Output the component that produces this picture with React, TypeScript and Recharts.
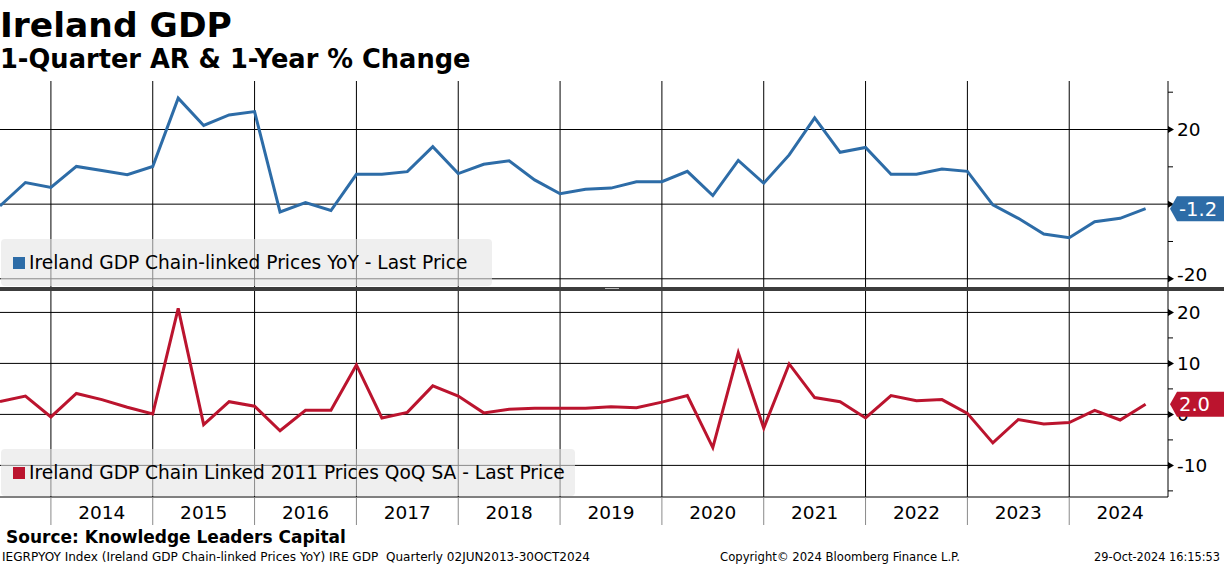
import { Legend, Line, LineChart, ReferenceLine, XAxis, YAxis } from 'recharts';

// Ireland GDP — YoY (top) and QoQ SA (bottom), quarterly, Bloomberg-style layout.

const QUARTERS = [
  '2013-Q2', '2013-Q3', '2013-Q4',
  '2014-Q1', '2014-Q2', '2014-Q3', '2014-Q4',
  '2015-Q1', '2015-Q2', '2015-Q3', '2015-Q4',
  '2016-Q1', '2016-Q2', '2016-Q3', '2016-Q4',
  '2017-Q1', '2017-Q2', '2017-Q3', '2017-Q4',
  '2018-Q1', '2018-Q2', '2018-Q3', '2018-Q4',
  '2019-Q1', '2019-Q2', '2019-Q3', '2019-Q4',
  '2020-Q1', '2020-Q2', '2020-Q3', '2020-Q4',
  '2021-Q1', '2021-Q2', '2021-Q3', '2021-Q4',
  '2022-Q1', '2022-Q2', '2022-Q3', '2022-Q4',
  '2023-Q1', '2023-Q2', '2023-Q3', '2023-Q4',
  '2024-Q1', '2024-Q2', '2024-Q3',
];

const YOY = [
  -0.5, 5.8, 4.5,
  10.1, 9.0, 7.9, 10.1,
  28.4, 21.1, 23.9, 24.8,
  -2.1, 0.4, -1.7, 8.0,
  8.0, 8.7, 15.4, 8.2,
  10.7, 11.6, 6.5, 2.8,
  4.0, 4.3, 6.0, 6.0,
  8.8, 2.3, 11.7, 5.6,
  13.2, 23.1, 13.9, 15.2,
  8.0, 8.0, 9.4, 8.8,
  -0.2, -3.8, -8.0, -9.0,
  -4.7, -3.8, -1.2,
];

const QOQ = [
  2.5, 3.6, -0.5,
  4.1, 2.9, 1.4, 0.1,
  20.8, -2.0, 2.5, 1.6,
  -3.2, 0.8, 0.8, 9.7,
  -0.7, 0.4, 5.6, 3.6,
  0.3, 1.0, 1.2, 1.2,
  1.2, 1.5, 1.3, 2.4,
  3.7, -6.5, 12.1, -2.7,
  9.9, 3.3, 2.5, -0.7,
  3.7, 2.7, 2.9, 0.2,
  -5.6, -1.0, -1.9, -1.6,
  0.8, -1.1, 2.0,
];

const YEARS = [2014, 2015, 2016, 2017, 2018, 2019, 2020, 2021, 2022, 2023, 2024];

const TOP_MAJOR = [20, 0, -20];
const TOP_MINOR = [30, 10, -10];
const BOTTOM_MAJOR = [20, 10, 0, -10];
const BOTTOM_MINOR = [15, 5, -5, -15];

const BLUE = '#2d6ca7';
const RED = '#bb142e';
const FONT = "Tahoma, 'DejaVu Sans', sans-serif";

const YOY_NAME = 'Ireland GDP Chain-linked Prices YoY - Last Price';
const QOQ_NAME = 'Ireland GDP Chain Linked 2011 Prices QoQ SA - Last Price';

// quarter label -> quarter-end as decimal year (Q4 lands on Jan 1 of next year)
const quarterEnd = (q: string) => {
  const [y, n] = q.split('-Q');
  return Number(y) + Number(n) / 4;
};

const rows = QUARTERS.map((q, i) => ({ t: quarterEnd(q), yoy: YOY[i], qoq: QOQ[i] }));

const X_DOMAIN: [number, number] = [2013.5, 2024.97];
// year boundaries get a divider, mid-years get the label
const X_TICKS = YEARS.flatMap((y) => [y, y + 0.5]);

const LAST_YOY = YOY[YOY.length - 1];
const LAST_QOQ = QOQ[QOQ.length - 1];

// axis ticks: minor/major marks first, the last-value tag last so it sits on top
const TOP_TICKS = [...TOP_MINOR, ...TOP_MAJOR].sort((a, b) => b - a).concat(LAST_YOY);
const BOTTOM_TICKS = [...BOTTOM_MINOR, ...BOTTOM_MAJOR].sort((a, b) => b - a).concat(LAST_QOQ);

function ValueTick(props: any) {
  const { x, y, payload, index, visibleTicksCount, majors, color, maxLabelY } = props;
  const v = payload.value as number;

  // last tick = last-value tag hanging off the axis
  if (index === visibleTicksCount - 1) {
    const tx = x + 2;
    return (
      <g>
        <polygon
          points={`${tx},${y} ${tx + 7},${y - 12.5} ${tx + 70},${y - 12.5} ${tx + 70},${y + 12.5} ${tx + 7},${y + 12.5}`}
          fill={color}
        />
        <text x={tx + 9} y={y} dy="0.36em" fontSize={19.5} fontFamily={FONT} fill="#fff">
          {v.toFixed(1)}
        </text>
      </g>
    );
  }

  if (!majors.includes(v)) {
    return <line x1={x} x2={x + 5} y1={y} y2={y} stroke="#000" />;
  }
  const ly = maxLabelY != null ? Math.min(y, maxLabelY) : y;
  return (
    <g>
      <polygon points={`${x},${y - 3.5} ${x + 6},${y} ${x},${y + 3.5}`} fill="#000" />
      <text x={x + 9} y={ly} dy="0.36em" fontSize={18.5} fontFamily={FONT} fill="#000">
        {String(v)}
      </text>
    </g>
  );
}

function YearTick(props: any) {
  const { x, y, payload } = props;
  const v = payload.value as number;
  if (Number.isInteger(v)) {
    return <line x1={x} x2={x} y1={y} y2={y + 28} stroke="#8a8a8a" />;
  }
  return (
    <text x={x} y={y + 22} textAnchor="middle" fontSize={18.5} fontFamily={FONT} fill="#000">
      {String(Math.floor(v))}
    </text>
  );
}

function LegendBox(props: any) {
  const item = props.payload?.[0];
  if (!item) return null;
  return (
    <div
      style={{
        height: '100%',
        boxSizing: 'border-box',
        background: 'rgba(228,228,228,0.6)',
        borderRadius: 4,
        display: 'flex',
        alignItems: 'center',
        paddingLeft: 12,
        fontFamily: FONT,
        fontSize: 18.6,
        color: '#000',
        whiteSpace: 'nowrap',
        overflow: 'hidden',
      }}
    >
      <span
        style={{
          display: 'inline-block',
          flex: '0 0 12px',
          minWidth: 12,
          height: 12,
          background: item.color,
          marginRight: 4,
        }}
      />
      <span>{item.value}</span>
    </div>
  );
}

export default function App() {
  return (
    <div
      style={{
        position: 'absolute',
        left: 0,
        top: 0,
        width: 1224,
        height: 566,
        background: '#fff',
        overflow: 'hidden',
        fontFamily: FONT,
      }}
    >
      <svg width={1224} height={566} style={{ position: 'absolute', left: 0, top: 0 }}>
        <text x={0} y={36.7} fontSize={34.5} fontWeight="bold" fontFamily={FONT} fill="#000">
          Ireland GDP
        </text>
        <text x={0} y={68} fontSize={25.7} fontWeight="bold" fontFamily={FONT} fill="#000">
          1-Quarter AR &amp; 1-Year % Change
        </text>
        <text x={6} y={543} fontSize={17} fontWeight="bold" fontFamily={FONT} fill="#000">
          Source: Knowledge Leaders Capital
        </text>
        <text
          x={2}
          y={561}
          fontSize={12}
          fontFamily={FONT}
          fill="#000"
          textLength={588}
          lengthAdjust="spacingAndGlyphs"
          style={{ whiteSpace: 'pre' }}
        >
          IEGRPYOY Index (Ireland GDP Chain-linked Prices YoY) IRE GDP  Quarterly 02JUN2013-30OCT2024
        </text>
        <text x={720} y={561} fontSize={12} fontFamily={FONT} fill="#000" textLength={240} lengthAdjust="spacingAndGlyphs">
          Copyright© 2024 Bloomberg Finance L.P.
        </text>
        <text x={1094} y={561} fontSize={12} fontFamily={FONT} fill="#000" textLength={126} lengthAdjust="spacingAndGlyphs">
          29-Oct-2024 16:15:53
        </text>
      </svg>

      {/* top panel: 1-year % change */}
      <div style={{ position: 'absolute', left: 0, top: 80 }}>
        <LineChart width={1224} height={207} data={rows} margin={{ top: 1, right: 0, bottom: 0, left: 0 }}>
          <XAxis type="number" dataKey="t" domain={X_DOMAIN} allowDataOverflow hide />
          {TOP_MAJOR.map((v) => (
            <ReferenceLine key={`h${v}`} y={v} stroke="#000" strokeWidth={1} />
          ))}
          {YEARS.map((y) => (
            <ReferenceLine key={`v${y}`} x={y} stroke="#000" strokeWidth={1} />
          ))}
          <Line
            dataKey="yoy"
            name={YOY_NAME}
            stroke={BLUE}
            strokeWidth={3}
            dot={false}
            isAnimationActive={false}
          />
          <YAxis
            orientation="right"
            width={56}
            domain={[-22.2, 33]}
            allowDataOverflow
            ticks={TOP_TICKS}
            interval={0}
            tickSize={0}
            tickMargin={0}
            tickLine={false}
            axisLine={{ stroke: '#000' }}
            tick={(p: any) => <ValueTick {...p} majors={TOP_MAJOR} color={BLUE} maxLabelY={194} />}
          />
          <Legend
            layout="horizontal"
            align="center"
            verticalAlign="middle"
            wrapperStyle={{ left: 1, top: 159, width: 491, height: 47 }}
            content={(p: any) => <LegendBox {...p} />}
          />
        </LineChart>
      </div>

      {/* bottom panel: quarter-on-quarter */}
      <div style={{ position: 'absolute', left: 0, top: 291 }}>
        <LineChart width={1224} height={236} data={rows} margin={{ top: 0, right: 0, bottom: 0, left: 0 }}>
          <XAxis
            type="number"
            dataKey="t"
            domain={X_DOMAIN}
            allowDataOverflow
            ticks={X_TICKS}
            interval={0}
            height={30}
            tickSize={0}
            tickMargin={0}
            tickLine={false}
            axisLine={{ stroke: '#000' }}
            tick={(p: any) => <YearTick {...p} />}
          />
          {BOTTOM_MAJOR.map((v) => (
            <ReferenceLine key={`h${v}`} y={v} stroke="#000" strokeWidth={1} />
          ))}
          {YEARS.map((y) => (
            <ReferenceLine key={`v${y}`} x={y} stroke="#000" strokeWidth={1} />
          ))}
          <Line
            dataKey="qoq"
            name={QOQ_NAME}
            stroke={RED}
            strokeWidth={3}
            dot={false}
            isAnimationActive={false}
          />
          <YAxis
            orientation="right"
            width={56}
            domain={[-16.2, 24.2]}
            allowDataOverflow
            ticks={BOTTOM_TICKS}
            interval={0}
            tickSize={0}
            tickMargin={0}
            tickLine={false}
            axisLine={{ stroke: '#000' }}
            tick={(p: any) => <ValueTick {...p} majors={BOTTOM_MAJOR} color={RED} />}
          />
          <Legend
            layout="horizontal"
            align="center"
            verticalAlign="middle"
            wrapperStyle={{ left: 1, top: 158, width: 574, height: 47 }}
            content={(p: any) => <LegendBox {...p} />}
          />
        </LineChart>
      </div>

      {/* panel divider */}
      <div style={{ position: 'absolute', left: 0, top: 287, width: 1224, height: 4, background: '#3c3c3c' }} />
      <div style={{ position: 'absolute', left: 605, top: 288, width: 14, height: 1, background: '#b8b8b8' }} />
    </div>
  );
}
